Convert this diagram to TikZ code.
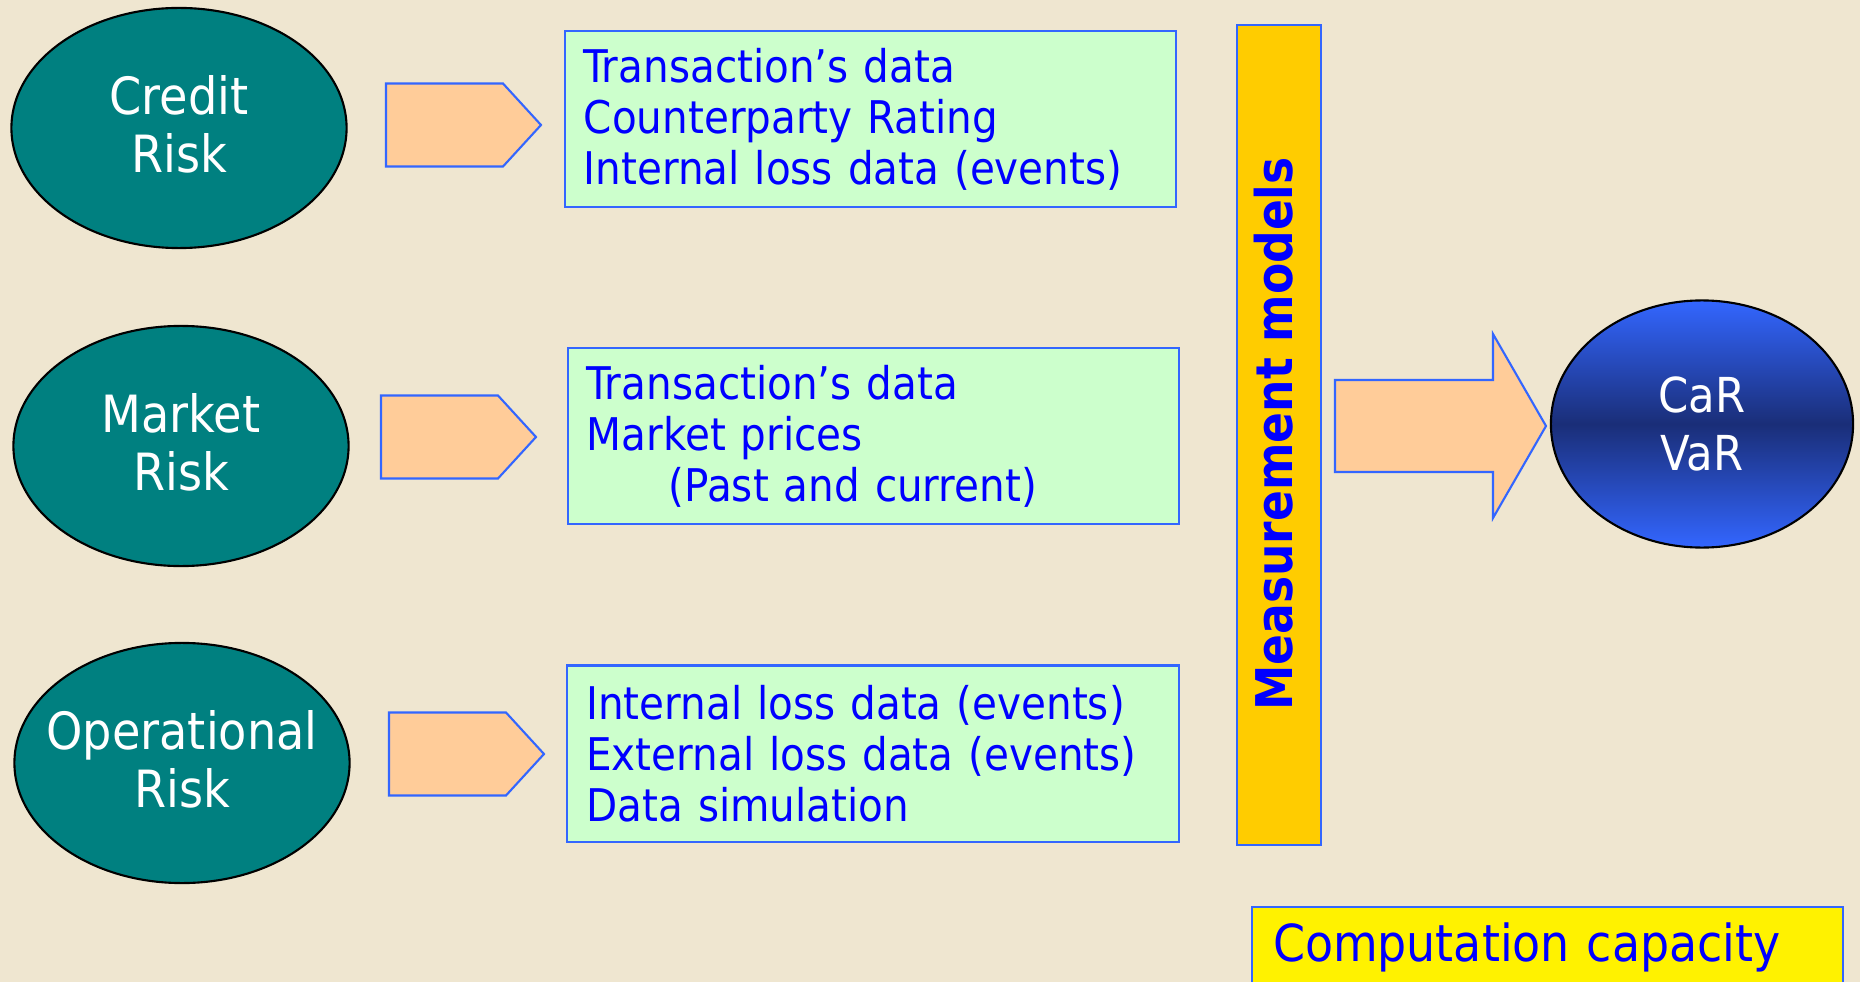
\documentclass[tikz,border=0pt]{standalone}
\usepackage{fontspec}
\setmainfont{DejaVu Sans Condensed}
\usetikzlibrary{shapes.geometric}
\definecolor{bgbeige}{HTML}{EFE6D0}
\definecolor{riskteal}{HTML}{008080}
\definecolor{boxgreen}{HTML}{CCFFCC}
\definecolor{edgeblue}{HTML}{3366FF}
\definecolor{tabpeach}{HTML}{FFCC99}
\definecolor{barorange}{HTML}{FFCC00}
\definecolor{textblue}{HTML}{0000FF}
\definecolor{carblue}{HTML}{3366FF}
\definecolor{carnavy}{HTML}{1A2E78}

\newcommand{\printTab}[2]{\filldraw [fill=tabpeach, draw=edgeblue] (#1,#2-41.5) -- (#1+117,#2-41.5) -- (#1+155,#2) -- (#1+117,#2+41.5) -- (#1,#2+41.5) -- cycle;}

\begin{document}
\begin{tikzpicture}[x=0.01cm,y=-0.01cm,line width=0.6pt,
    risk/.style={ellipse,fill=riskteal,draw=black,inner sep=0pt,
        minimum width=3.35cm,minimum height=2.4cm},
    risklabel/.style={text=white,inner sep=0pt,align=center,
        font=\fontsize{14.6}{16.5}\selectfont},
    databox/.style={rectangle,fill=boxgreen,draw=edgeblue,text=textblue,
        minimum height=1.76cm,text width=5.73cm,inner xsep=0.19cm,align=left,
        font=\fontsize{12.8}{14.5}\selectfont}]
  \useasboundingbox (0,0) rectangle (1860,982);
  \fill [bgbeige] (0,0) rectangle (1860,982);

  % risk types
  \node [risk] (credit) at (179,128) {};
  \node [risk] (market) at (181,446) {};
  \node [risk] (oper) at (182,763) {};
  \node [risklabel] (creditlabel) at (179,124.5) {Credit\\Risk};
  \node [risklabel] (marketlabel) at (181,442.5) {Market\\Risk};
  \node [risklabel] (operlabel) at (182,759.5) {Operational\\Risk};

  \printTab{386}{125}
  \printTab{381}{437}
  \printTab{389}{754}

  % input data
  \node [databox] (creditdata) at (870.5,119) {Transaction’s data\\Counterparty Rating\\Internal loss data (events)};
  \node [databox] (marketdata) at (873.5,436) {Transaction’s data\\Market prices\\\hspace*{0.82cm}(Past and current)};
  \node [databox] (operdata) at (873,753.5) {Internal loss data (events)\\External loss data (events)\\Data simulation};

  % models
  \node [draw=edgeblue,fill=barorange,minimum width=0.84cm,minimum height=8.2cm,inner sep=0pt] (bar) at (1279,435) {};
  \node [rotate=90,text=textblue,font=\bfseries\fontsize{14.4}{16}\selectfont] (barlabel) at (1274,434) {Measurement models};

  \filldraw [fill=tabpeach, draw=edgeblue] (1335,380) -- (1493,380) -- (1493,334) -- (1546,426) -- (1493,518) -- (1493,472) -- (1335,472) -- cycle;

  \node [ellipse,draw=black,top color=carblue,bottom color=carblue,middle color=carnavy,text=white,
      minimum width=3.02cm,minimum height=2.47cm,inner sep=0pt,align=center,
      font=\fontsize{13.7}{16.5}\selectfont] (car) at (1702,424) {CaR\\VaR};

  \node [anchor=north west,draw=edgeblue,fill=yellow,text=textblue,minimum height=0.8cm,
      text width=5.49cm,inner xsep=0.21cm,align=left,
      font=\fontsize{14.5}{16}\selectfont] (comp) at (1251,906) {Computation capacity};
\end{tikzpicture}
\end{document}
